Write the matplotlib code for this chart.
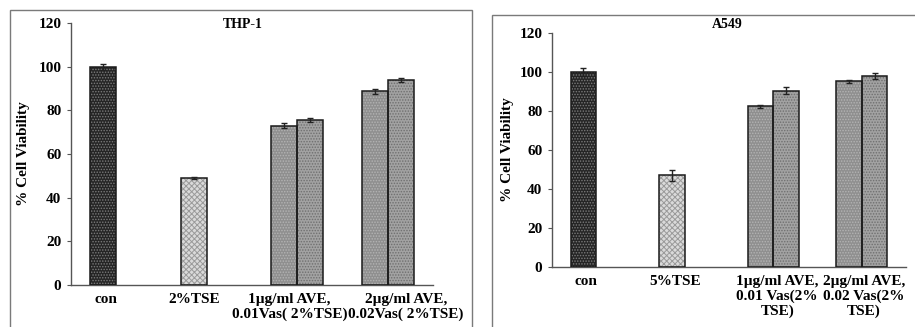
import numpy as np
import matplotlib.pyplot as plt
import matplotlib.patches as patches
import matplotlib.transforms as mtransforms

plt.rcParams['font.family'] = ['Liberation Serif', 'DejaVu Serif']
plt.rcParams['font.weight'] = 'bold'
plt.rcParams['hatch.linewidth'] = 0.7

# THP-1 panel
thp_labels = ["con", "2%TSE", "1\u00b5g/ml AVE,\n0.01Vas( 2%TSE)", "2\u00b5g/ml AVE,\n0.02Vas( 2%TSE)"]
thp_s1 = [100, 49, 73, 88.7]
thp_s1_err = [1.3, 0.4, 1.0, 1.3]
thp_s2 = [np.nan, np.nan, 75.6, 94]
thp_s2_err = [0, 0, 1.0, 1.0]

# A549 panel
a549_labels = ["con", "5%TSE", "1\u00b5g/ml AVE,\n0.01 Vas(2%\nTSE)", "2\u00b5g/ml AVE,\n0.02 Vas(2%\nTSE)"]
a549_s1 = [100, 47, 82.5, 95.2]
a549_s1_err = [2.2, 3.0, 0.8, 0.8]
a549_s2 = [np.nan, np.nan, 90.5, 97.8]
a549_s2_err = [0, 0, 2.0, 1.5]

# look of each bar (series 1 per category, then series 2)
s1_face = ['#252525', '#dadada', '#8f8f8f', '#8f8f8f']
s1_hatch_col = ['#7c7c7c', '#9a9a9a', '#b4b4b4', '#b4b4b4']
s1_hatch = ['......', 'xxxxxx', '......', '......']
s2_face = '#a2a2a2'
s2_hatch_col = '#6f6f6f'

fig = plt.figure(figsize=(9.15, 3.27), dpi=100)

# chart area frames
fig.add_artist(patches.Rectangle((10 / 915, -0.05), 462 / 915, 1.05 - 10 / 327,
                                 transform=fig.transFigure, fill=False,
                                 edgecolor='#7a7a7a', linewidth=1))
fig.add_artist(patches.Rectangle((492 / 915, -0.05), 0.6, 1.05 - 15 / 327,
                                 transform=fig.transFigure, fill=False,
                                 edgecolor='#7a7a7a', linewidth=1))


def draw_panel(ax, labels, s1, s1_err, s2, s2_err, title, title_xy, ylab_x, linesp, label_shift):
    x = np.arange(len(labels))
    w = 0.29
    for i in range(len(labels)):
        ax.bar(x[i] - w / 2, s1[i], w, color=s1_face[i], hatch=s1_hatch[i],
               edgecolor=s1_hatch_col[i], linewidth=0, zorder=2)
        ax.bar(x[i] - w / 2, s1[i], w, fill=False, edgecolor='#1a1a1a',
               linewidth=1.1, zorder=3)
        ax.errorbar(x[i] - w / 2, s1[i], yerr=s1_err[i], fmt='none',
                    ecolor='#222222', elinewidth=1, capsize=2.5, capthick=1, zorder=4)
        if not np.isnan(s2[i]):
            ax.bar(x[i] + w / 2, s2[i], w, color=s2_face, hatch='......',
                   edgecolor=s2_hatch_col, linewidth=0, zorder=2)
            ax.bar(x[i] + w / 2, s2[i], w, fill=False, edgecolor='#1a1a1a',
                   linewidth=1.1, zorder=3)
            ax.errorbar(x[i] + w / 2, s2[i], yerr=s2_err[i], fmt='none',
                        ecolor='#222222', elinewidth=1, capsize=2.5, capthick=1, zorder=4)

    ax.set_xlim(-0.5, len(labels) - 0.5)
    ax.set_ylim(0, 120)
    ax.set_yticks(range(0, 121, 20))
    ax.set_xticks(x)
    ax.set_xticklabels(labels, fontsize=11, fontweight='bold', linespacing=linesp)
    ax.tick_params(axis='x', length=0, pad=6)
    ax.tick_params(axis='y', length=3, width=0.8, color='#555555', labelsize=11, pad=4)
    # nudge crowded category labels sideways (pixels)
    for lab, dx in zip(ax.get_xticklabels(), label_shift):
        lab.set_transform(lab.get_transform() +
                          mtransforms.ScaledTranslation(dx / 100, 0, fig.dpi_scale_trans))
    for s in ['top', 'right']:
        ax.spines[s].set_visible(False)
    for s in ['left', 'bottom']:
        ax.spines[s].set_color('#555555')
        ax.spines[s].set_linewidth(1)
    ax.set_ylabel('% Cell Viability', fontsize=11, fontweight='bold')
    ax.yaxis.set_label_coords(ylab_x, 0.5)
    fig.text(title_xy[0], title_xy[1], title, fontsize=10, fontweight='bold',
             ha='center', va='center')


ax1 = fig.add_axes([71 / 915, 1 - 285 / 327, 362 / 915, 262 / 327])
draw_panel(ax1, thp_labels, thp_s1, thp_s1_err, thp_s2, thp_s2_err,
           'THP-1', (243 / 915, 1 - 24 / 327), -0.113, 1.1, [-10, -13, -8, 18])

ax2 = fig.add_axes([552 / 915, 1 - 267 / 327, 354 / 915, 234 / 327])
draw_panel(ax2, a549_labels, a549_s1, a549_s1_err, a549_s2, a549_s2_err,
           'A549', (727 / 915, 1 - 25 / 327), -0.107, 1.15, [-10, -10, 4, 2])

fig.savefig('out.png', dpi=100)
